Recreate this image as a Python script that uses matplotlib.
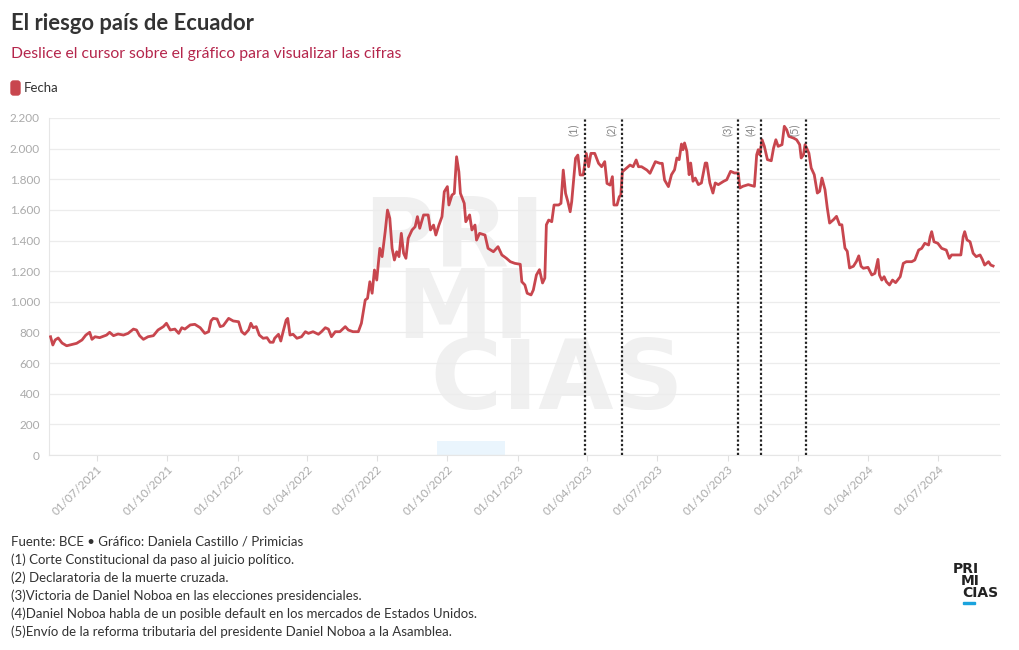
import matplotlib
matplotlib.use("Agg")
import matplotlib.pyplot as plt
import matplotlib.dates as mdates
import matplotlib.patches as mpatches
import pandas as pd

plt.rcParams['font.family'] = ['Lato', 'DejaVu Sans']

# serie (riesgo pais, puntos basicos)
fechas = [
    "2021-05-02", "2021-05-05", "2021-05-08", "2021-05-12", "2021-05-17", "2021-05-23",
    "2021-05-30", "2021-06-05", "2021-06-12", "2021-06-17", "2021-06-22", "2021-06-25",
    "2021-06-29", "2021-07-05", "2021-07-14", "2021-07-18", "2021-07-23", "2021-07-29",
    "2021-08-05", "2021-08-11", "2021-08-18", "2021-08-22", "2021-08-26", "2021-08-31",
    "2021-09-06", "2021-09-13", "2021-09-19", "2021-09-26", "2021-09-30", "2021-10-05",
    "2021-10-11", "2021-10-16", "2021-10-20", "2021-10-24", "2021-10-31", "2021-11-06",
    "2021-11-13", "2021-11-19", "2021-11-24", "2021-11-27", "2021-11-30", "2021-12-05",
    "2021-12-09", "2021-12-13", "2021-12-20", "2021-12-26", "2022-01-02", "2022-01-06",
    "2022-01-10", "2022-01-15", "2022-01-18", "2022-01-21", "2022-01-25", "2022-01-29",
    "2022-02-03", "2022-02-08", "2022-02-12", "2022-02-16", "2022-02-18", "2022-02-23",
    "2022-02-26", "2022-03-01", "2022-03-05", "2022-03-07", "2022-03-10", "2022-03-14",
    "2022-03-19", "2022-03-25", "2022-03-30", "2022-04-03", "2022-04-09", "2022-04-16",
    "2022-04-20", "2022-04-25", "2022-04-29", "2022-05-03", "2022-05-08", "2022-05-14",
    "2022-05-21", "2022-05-25", "2022-05-31", "2022-06-07", "2022-06-11", "2022-06-16",
    "2022-06-19", "2022-06-22", "2022-06-25", "2022-06-28", "2022-07-01", "2022-07-05",
    "2022-07-08", "2022-07-12", "2022-07-15", "2022-07-18", "2022-07-21", "2022-07-24",
    "2022-07-27", "2022-07-30", "2022-08-02", "2022-08-05", "2022-08-08", "2022-08-11",
    "2022-08-16", "2022-08-20", "2022-08-23", "2022-08-26", "2022-08-31", "2022-09-06",
    "2022-09-09", "2022-09-13", "2022-09-16", "2022-09-20", "2022-09-24", "2022-09-27",
    "2022-10-01", "2022-10-03", "2022-10-07", "2022-10-10", "2022-10-13", "2022-10-16",
    "2022-10-18", "2022-10-23", "2022-10-25", "2022-10-30", "2022-11-02", "2022-11-06",
    "2022-11-08", "2022-11-12", "2022-11-19", "2022-11-23", "2022-11-30", "2022-12-06",
    "2022-12-11", "2022-12-17", "2022-12-22", "2022-12-28", "2023-01-04", "2023-01-06",
    "2023-01-10", "2023-01-13", "2023-01-18", "2023-01-21", "2023-01-25", "2023-01-29",
    "2023-02-02", "2023-02-05", "2023-02-07", "2023-02-10", "2023-02-14", "2023-02-17",
    "2023-02-23", "2023-02-26", "2023-03-01", "2023-03-04", "2023-03-07", "2023-03-10",
    "2023-03-12", "2023-03-17", "2023-03-20", "2023-03-23", "2023-03-27", "2023-03-31",
    "2023-04-03", "2023-04-06", "2023-04-11", "2023-04-16", "2023-04-20", "2023-04-24",
    "2023-04-27", "2023-05-01", "2023-05-04", "2023-05-06", "2023-05-10", "2023-05-13",
    "2023-05-15", "2023-05-17", "2023-05-22", "2023-05-27", "2023-05-31", "2023-06-04",
    "2023-06-07", "2023-06-11", "2023-06-18", "2023-06-22", "2023-06-29", "2023-07-05",
    "2023-07-08", "2023-07-11", "2023-07-16", "2023-07-20", "2023-07-24", "2023-07-27",
    "2023-07-30", "2023-08-02", "2023-08-04", "2023-08-06", "2023-08-09", "2023-08-12",
    "2023-08-14", "2023-08-17", "2023-08-20", "2023-08-24", "2023-08-28", "2023-09-02",
    "2023-09-04", "2023-09-08", "2023-09-12", "2023-09-15", "2023-09-19", "2023-09-26",
    "2023-09-30", "2023-10-05", "2023-10-10", "2023-10-15", "2023-10-17", "2023-10-21",
    "2023-10-28", "2023-11-05", "2023-11-08", "2023-11-10", "2023-11-12", "2023-11-15",
    "2023-11-18", "2023-11-22", "2023-11-27", "2023-11-30", "2023-12-03", "2023-12-06",
    "2023-12-11", "2023-12-14", "2023-12-17", "2023-12-20", "2023-12-26", "2023-12-30",
    "2024-01-03", "2024-01-05", "2024-01-08", "2024-01-10", "2024-01-12", "2024-01-15",
    "2024-01-18", "2024-01-22", "2024-01-26", "2024-01-29", "2024-02-01", "2024-02-05",
    "2024-02-08", "2024-02-11", "2024-02-16", "2024-02-20", "2024-02-24", "2024-02-27",
    "2024-03-02", "2024-03-05", "2024-03-08", "2024-03-13", "2024-03-17", "2024-03-20",
    "2024-03-23", "2024-03-26", "2024-04-01", "2024-04-06", "2024-04-10", "2024-04-14",
    "2024-04-16", "2024-04-19", "2024-04-22", "2024-04-25", "2024-04-29", "2024-05-03",
    "2024-05-07", "2024-05-13", "2024-05-17", "2024-05-21", "2024-05-28", "2024-06-01",
    "2024-06-06", "2024-06-10", "2024-06-14", "2024-06-19", "2024-06-21", "2024-06-23",
    "2024-06-26", "2024-07-01", "2024-07-06", "2024-07-12", "2024-07-16", "2024-07-19",
    "2024-07-25", "2024-07-31", "2024-08-03", "2024-08-05", "2024-08-08", "2024-08-12",
    "2024-08-16", "2024-08-20", "2024-08-25", "2024-08-28", "2024-08-31", "2024-09-05",
    "2024-09-08", "2024-09-11",
]
riesgo = [
    772, 718, 751, 764, 731, 713,
    722, 729, 751, 783, 801, 755,
    772, 766, 783, 801, 779, 790,
    783, 794, 822, 816, 779, 755,
    772, 779, 816, 838, 860, 816,
    822, 794, 831, 822, 849, 853,
    831, 794, 805, 875, 892, 888,
    838, 844, 892, 875, 870, 805,
    788, 816, 860, 831, 838, 783,
    762, 766, 736, 736, 762, 788,
    744, 805, 881, 892, 783, 788,
    762, 772, 805, 794, 805, 788,
    805, 831, 822, 772, 805, 805,
    838, 816, 805, 805, 860, 1012,
    1023, 1131, 1056, 1208, 1142, 1349,
    1295, 1458, 1599, 1545, 1349, 1273,
    1327, 1295, 1447, 1317, 1284, 1415,
    1469, 1490, 1556, 1480, 1567, 1567,
    1469, 1501, 1436, 1501, 1556, 1719,
    1752, 1632, 1697, 1708, 1947, 1849,
    1708, 1643, 1523, 1567, 1469, 1501,
    1403, 1447, 1436, 1349, 1327, 1360,
    1306, 1284, 1262, 1251, 1245, 1131,
    1110, 1056, 1045, 1077, 1175, 1210,
    1123, 1155, 1503, 1534, 1523, 1632,
    1632, 1643, 1860, 1708, 1654, 1588,
    1654, 1937, 1958, 1828, 1828, 1969,
    1882, 1969, 1969, 1904, 1882, 1915,
    1773, 1762, 1817, 1632, 1632, 1686,
    1697, 1849, 1871, 1893, 1882, 1926,
    1882, 1882, 1860, 1839, 1915, 1904,
    1904, 1795, 1752, 1830, 1862, 1939,
    1928, 2030, 1993, 2037, 1983, 1830,
    1906, 1787, 1808, 1765, 1776, 1906,
    1906, 1776, 1710, 1776, 1765, 1787,
    1797, 1852, 1841, 1841, 1743, 1754,
    1765, 1754, 1960, 1993, 1960, 2058,
    2015, 1928, 1921, 2004, 2058, 2015,
    2026, 2146, 2124, 2080, 2069, 2058,
    2026, 1939, 1960, 2026, 2004, 1971,
    1874, 1830, 1710, 1721, 1808, 1732,
    1612, 1514, 1536, 1558, 1503, 1503,
    1351, 1330, 1221, 1232, 1264, 1300,
    1232, 1219, 1225, 1175, 1186, 1277,
    1175, 1142, 1164, 1131, 1110, 1142,
    1125, 1164, 1251, 1262, 1262, 1273,
    1338, 1349, 1382, 1371, 1425, 1458,
    1392, 1382, 1349, 1338, 1284, 1306,
    1306, 1306, 1425, 1458, 1404, 1392,
    1317, 1295, 1306, 1277, 1240, 1262,
    1240, 1234,
]

eventos = ["2023-03-29", "2023-05-17", "2023-10-15", "2023-11-14", "2024-01-11"]
eventos_lbl = ["(1)", "(2)", "(3)", "(4)", "(5)"]

ticks_x = ["2021-07-01", "2021-10-01", "2022-01-01", "2022-04-01", "2022-07-01",
           "2022-10-01", "2023-01-01", "2023-04-01", "2023-07-01", "2023-10-01",
           "2024-01-01", "2024-04-01", "2024-07-01"]
ticks_y = [0, 200, 400, 600, 800, 1000, 1200, 1400, 1600, 1800, 2000, 2200]

notas = [
    "Fuente: BCE \u2022 Gráfico: Daniela Castillo / Primicias",
    "(1) Corte Constitucional da paso al juicio político.",
    "(2) Declaratoria de la muerte cruzada.",
    "(3)Victoria de Daniel Noboa en las elecciones presidenciales.",
    "(4)Daniel Noboa habla de un posible default en los mercados de Estados Unidos.",
    "(5)Envío de la reforma tributaria del presidente Daniel Noboa a la Asamblea.",
]

rojo = "#c8464e"
gris = "#aaaaaa"

fig = plt.figure(figsize=(10.2, 6.5), dpi=100)
ax = fig.add_axes([49 / 1020, 1 - 455 / 650, 951 / 1020, 337 / 650])

x = pd.to_datetime(fechas)

# marca de agua (un solo texto de tres lineas)
ax.text(0.330, 0.775, "PRI\n MI\n  CIAS", ha="left", va="top", multialignment="left",
        linespacing=0.70, transform=ax.transAxes, fontsize=70, fontweight="bold",
        color="#f0f0f0", family=["Liberation Sans Narrow", "DejaVu Sans"], zorder=0)
ax.add_patch(mpatches.Rectangle((0.408, 0), 0.072, 0.042, transform=ax.transAxes,
                                color="#eaf5fd", lw=0, zorder=0))

ax.plot(x, riesgo, color=rojo, lw=2.0, zorder=3, solid_joinstyle="round")

for d, lbl in zip(eventos, eventos_lbl):
    dd = pd.Timestamp(d)
    ax.axvline(dd, color="#222222", lw=1.6, ls=(0, (1, 1)), zorder=4)
    ax.annotate(lbl, xy=(dd, 1), xycoords=("data", "axes fraction"),
                xytext=(-8, -4), textcoords="offset points", rotation=90,
                ha="center", va="top", fontsize=8, color="#888888")

ax.set_ylim(0, 2200)
ax.set_xlim(pd.Timestamp("2021-04-30"), pd.Timestamp("2024-09-20"))
ax.set_yticks(ticks_y)
ax.set_yticklabels([f"{v:,}".replace(",", ".") for v in ticks_y])
ax.set_xticks(pd.to_datetime(ticks_x))
ax.xaxis.set_major_formatter(mdates.DateFormatter("%d/%m/%Y"))
ax.grid(axis="y", color="#ececec", lw=0.9)
ax.set_axisbelow(True)
for s in ["top", "right"]:
    ax.spines[s].set_visible(False)
ax.spines["left"].set_color("#e6e6e6")
ax.spines["bottom"].set_color("#e6e6e6")
ax.tick_params(axis="y", length=0, pad=6.5, labelsize=8.5, labelcolor=gris)
ax.tick_params(axis="x", length=4, color="#e0e0e0", pad=2, labelsize=8.5, labelcolor=gris)
for lab in ax.get_xticklabels():
    lab.set_rotation(45)
    lab.set_ha("right")
    lab.set_rotation_mode("anchor")

# titulos
fig.text(11 / 1020, 1 - 24 / 650, "El riesgo país de Ecuador", fontsize=15.8,
         fontweight="bold", color="#333333", va="center")
fig.text(11 / 1020, 1 - 54 / 650, "Deslice el cursor sobre el gráfico para visualizar las cifras",
         fontsize=11.3, color="#b5264c", va="center")
fig.patches.append(mpatches.FancyBboxPatch((0.11, 5.55), 0.09, 0.14,
                                           boxstyle="round,pad=0,rounding_size=0.025",
                                           transform=fig.dpi_scale_trans, color=rojo,
                                           figure=fig))
fig.text(24 / 1020, 1 - 88 / 650, "Fecha", fontsize=9.5, color="#333333", va="center")

for i, t in enumerate(notas):
    fig.text(11 / 1020, 1 - (542 + 18 * i) / 650, t, fontsize=9.5, color="#333333", va="center")

# logo
lg = dict(fontsize=10, fontweight="bold", color="#222222",
          family=["Liberation Sans Narrow", "DejaVu Sans"], va="center")
fig.text(953 / 1020, 1 - 569 / 650, "PRI", ha="left", **lg)
fig.text(980 / 1020, 1 - 581 / 650, "MI", ha="right", **lg)
fig.text(962 / 1020, 1 - 593 / 650, "CIAS", ha="left", **lg)
fig.patches.append(mpatches.Rectangle((963 / 1020, 1 - 604 / 650), 12 / 1020, 2 / 650,
                                      transform=fig.transFigure, color="#1aa3dd", figure=fig))

fig.savefig("out.png", dpi=100)
